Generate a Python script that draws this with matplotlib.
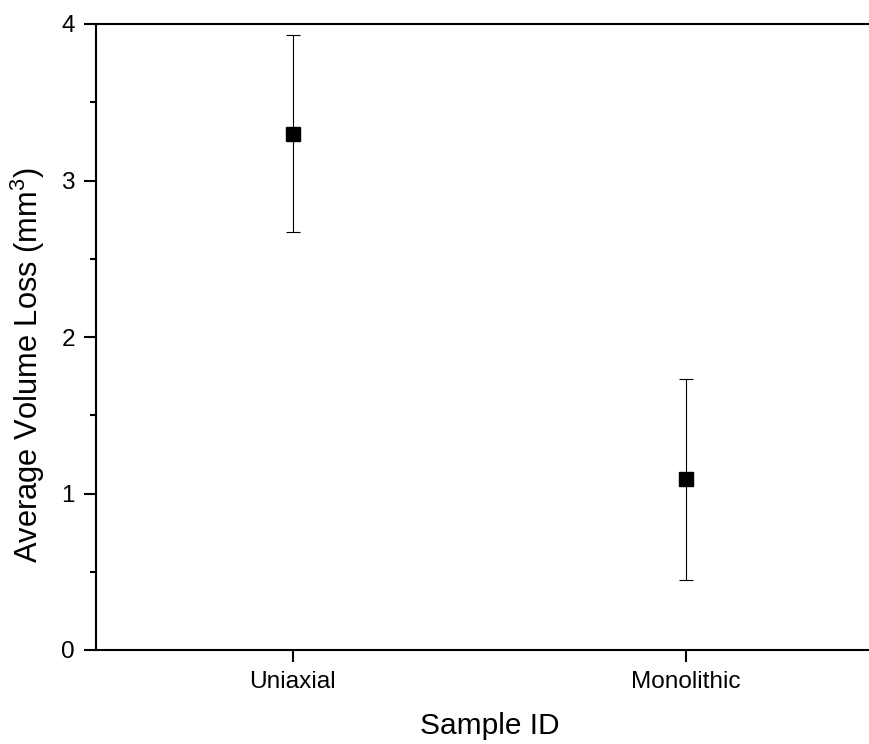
import matplotlib
matplotlib.use("Agg")
import matplotlib.pyplot as plt
from matplotlib.ticker import MultipleLocator

# data
samples = ["Uniaxial", "Monolithic"]
volume_loss = [3.30, 1.09]
volume_err = [0.63, 0.64]

plt.rcParams['font.family'] = ['Liberation Sans', 'DejaVu Sans']
plt.rcParams['mathtext.fontset'] = 'custom'
plt.rcParams['mathtext.rm'] = 'Liberation Sans'

fig = plt.figure(figsize=(8.7, 7.44), dpi=100)
# axes runs past the right edge, like the cropped original
ax = fig.add_axes([96 / 870, 94 / 744, 787 / 870, 626 / 744])

xpos = list(range(1, len(samples) + 1))
ax.errorbar(xpos, volume_loss, yerr=volume_err, fmt='s', color='black',
            markersize=9.6, elinewidth=0.8, capsize=4.8, capthick=0.8)

ax.set_xlim(0.5, 2.5)
ax.set_ylim(0, 4)
ax.set_xticks(xpos)
ax.set_xticklabels(samples)
ax.yaxis.set_major_locator(MultipleLocator(1))
ax.yaxis.set_minor_locator(MultipleLocator(0.5))

for side in ax.spines.values():
    side.set_linewidth(1.5)

ax.tick_params(axis='both', which='major', direction='out', length=8.6,
               width=1.5, labelsize=17.6, pad=6.5)
ax.tick_params(axis='y', which='minor', direction='out', length=4.5, width=1.5)
ax.tick_params(axis='x', which='minor', bottom=False)

ax.set_xlabel('Sample ID', fontsize=21.5, labelpad=14)
ax.set_ylabel('Average Volume Loss (mm$^\\mathrm{3}$)', fontsize=22.2)
ax.yaxis.set_label_coords(-0.062, 0.455)

fig.savefig('out.png', dpi=100)
